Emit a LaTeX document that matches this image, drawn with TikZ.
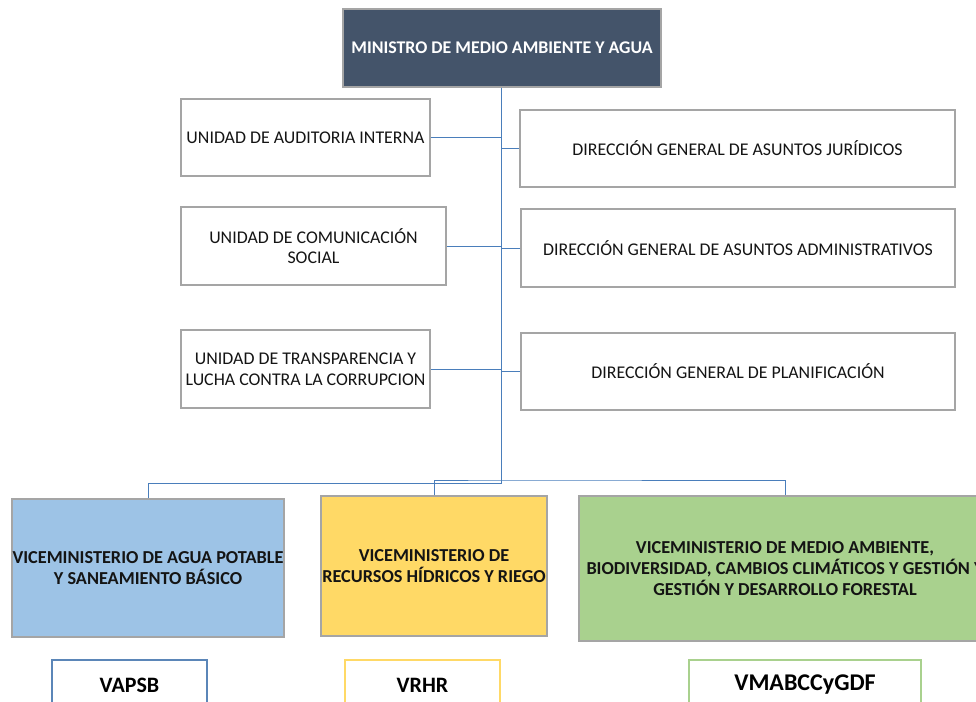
\documentclass[tikz,border=0pt]{standalone}
\usepackage{fontspec}
\setmainfont{Carlito}
\usepackage{tikz}
\usetikzlibrary{positioning, calc}

\definecolor{ministro}{HTML}{44546A}
\definecolor{boxgray}{HTML}{A5A5A5}
\definecolor{linkblue}{HTML}{4A7EBB}
\definecolor{vapsbfill}{HTML}{9DC3E6}
\definecolor{vrhrfill}{HTML}{FFD966}
\definecolor{vmafill}{HTML}{A9D18E}
\definecolor{vapsbline}{HTML}{5B86B8}
\definecolor{txt}{HTML}{141414}

\begin{document}
\begin{tikzpicture}[x=0.75pt, y=-0.75pt,
    unitbox/.style={draw=boxgray, line width=0.9pt, rectangle, inner sep=0pt, align=center, text=txt, font=\fontsize{13.4}{15.5}\selectfont},
    vicebox/.style={unitbox, font=\bfseries\fontsize{13.7}{16}\selectfont},
    siglabox/.style={draw, rectangle, line width=0.8pt, inner sep=0pt, minimum width=#1, minimum height=37.5pt, font=\bfseries\fontsize{16.5}{18}\selectfont},
    link/.style={draw=linkblue, line width=0.7pt}]
    \useasboundingbox (0,0) rectangle (976,701);
    \clip (0,0) rectangle (976,701);

    % Ministro
    \node[unitbox, fill=ministro, text=white, minimum width=238.5pt, minimum height=58.5pt, font=\bfseries\fontsize{13.4}{15.5}\selectfont] (min) at (502, 48) {MINISTRO DE MEDIO AMBIENTE Y AGUA};

    % Unidades (izquierda)
    \node[unitbox, minimum width=186.75pt, minimum height=57.75pt] (aud) at (305.5, 137.5) {UNIDAD DE AUDITORIA INTERNA};
    \node[unitbox, minimum width=198.75pt, minimum height=58.5pt] (com) at (313.5, 246) {UNIDAD DE COMUNICACIÓN\\SOCIAL};
    \node[unitbox, minimum width=186.75pt, minimum height=58.5pt] (trans) at (305.5, 369) {UNIDAD DE TRANSPARENCIA Y\\LUCHA CONTRA LA CORRUPCION};

    % Direcciones (derecha)
    \node[unitbox, minimum width=326.25pt, minimum height=57.75pt] (jur) at (737.5, 148.5) {DIRECCIÓN GENERAL DE ASUNTOS JURÍDICOS};
    \node[unitbox, minimum width=325.5pt, minimum height=58.5pt] (adm) at (738, 248) {DIRECCIÓN GENERAL DE ASUNTOS ADMINISTRATIVOS};
    \node[unitbox, minimum width=325.5pt, minimum height=57.75pt] (plan) at (738, 371.5) {DIRECCIÓN GENERAL DE PLANIFICACIÓN};

    % Viceministerios
    \node[vicebox, fill=vapsbfill, minimum width=204pt, minimum height=103.5pt] (vapsb) at (148, 568) {VICEMINISTERIO DE AGUA POTABLE\\Y SANEAMIENTO BÁSICO};
    \node[vicebox, fill=vrhrfill, minimum width=169.5pt, minimum height=105pt] (vrhr) at (434, 566) {VICEMINISTERIO DE\\RECURSOS HÍDRICOS Y RIEGO};
    \node[vicebox, fill=vmafill, minimum width=309pt, minimum height=108.75pt] (vma) at (785, 568.5) {VICEMINISTERIO DE MEDIO AMBIENTE,\\BIODIVERSIDAD, CAMBIOS CLIMÁTICOS Y GESTIÓN Y\\GESTIÓN Y DESARROLLO FORESTAL};

    % Siglas
    \node[siglabox=116.25pt, draw=vapsbline] (svapsb) at (129.5, 685) {VAPSB};
    \node[siglabox=116.25pt, draw=vrhrfill] (svrhr) at (422.5, 685) {VRHR};
    \node[siglabox=174pt, draw=vmafill, font=\bfseries\fontsize{18}{20}\selectfont] (svma) at (805, 685) {VMABCCyGDF};

    % Conexiones
    \coordinate (hub) at (501, 483);
    \coordinate (hubr) at (501, 480);
    \path[link] (min.south -| hub) -- (hub) -| (vapsb.north);
    \path[link] (vrhr.north) |- (hubr) -| (vma.north);
    \path[link] (aud.east) -- (aud.east -| hub);
    \path[link] (com.east) -- (com.east -| hub);
    \path[link] (trans.east) -- (trans.east -| hub);
    \path[link] (jur.west) -- (jur.west -| hub);
    \path[link] (adm.west) -- (adm.west -| hub);
    \path[link] (plan.west) -- (plan.west -| hub);
\end{tikzpicture}
\end{document}
